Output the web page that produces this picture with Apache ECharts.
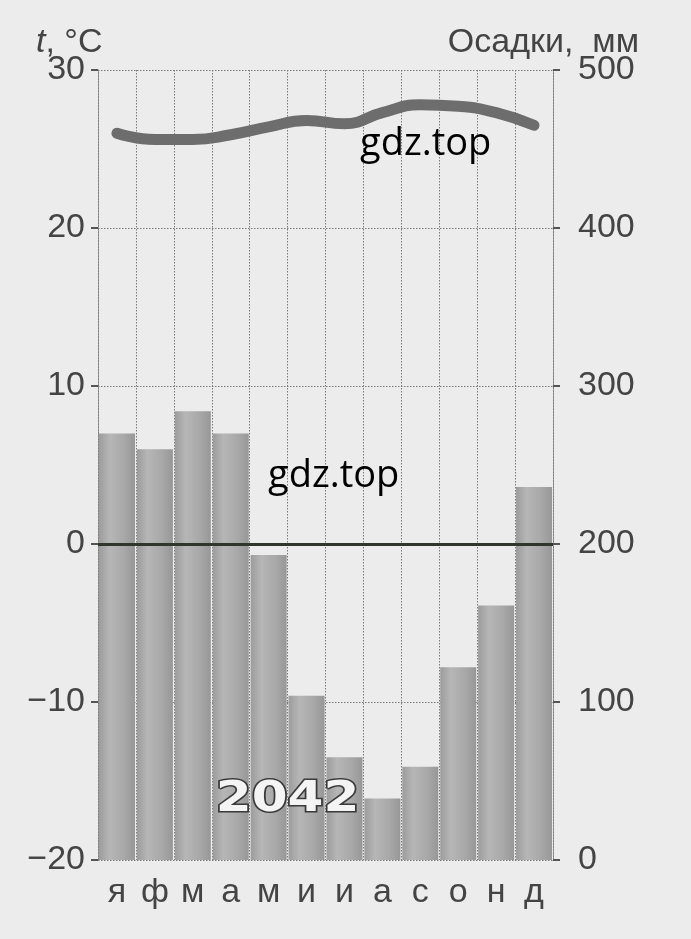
<!DOCTYPE html>
<html>
<head>
<meta charset="utf-8">
<script src="https://cdn.jsdelivr.net/npm/echarts@6/dist/echarts.min.js"></script>
<style>
html,body{margin:0;padding:0;background:#ececec;}
#chart{width:691px;height:939px;}
</style>
</head>
<body>
<div id="chart"></div>
<script>
const months = ['я','ф','м','а','м','и','и','а','с','о','н','д'];
const precipitation = [270, 260, 284, 270, 193, 104, 65, 39, 59, 122, 161, 236];
const temperature = [26.0, 25.6, 25.6, 25.9, 26.4, 26.8, 26.6, 27.3, 27.8, 27.7, 27.3, 26.5];
const tempTicks = {min: -20, max: 30, interval: 10};
const precTicks = {min: 0, max: 500, interval: 100};
const yearLabel = '2042';
const leftTitle = 't';
const leftUnit = ', °C';
const rightTitle = 'Осадки,  мм';
const watermark = 'gdz.top';

const chart = echarts.init(document.getElementById('chart'));
const grey = '#444';
const dotted = {color: '#7a7a7a', width: 1, type: [1.5, 1.5]};
const labelFont = 'Liberation Sans, Arial, sans-serif';

chart.setOption({
  backgroundColor: '#ececec',
  animation: false,
  grid: {left: 98, right: 138, top: 70, bottom: 79},
  xAxis: {
    type: 'category',
    data: months,
    boundaryGap: true,
    axisLine: {show: true, lineStyle: dotted},
    axisTick: {show: false},
    splitLine: {show: true, interval: 0, lineStyle: dotted},
    axisLabel: {color: grey, fontSize: 34, fontFamily: labelFont, margin: 16, interval: 0}
  },
  yAxis: [
    {
      type: 'value', min: tempTicks.min, max: tempTicks.max, interval: tempTicks.interval,
      axisLine: {show: true, lineStyle: dotted},
      axisTick: {show: true, length: 7, lineStyle: {color: '#555', width: 2}},
      splitLine: {show: true, lineStyle: dotted},
      axisLabel: {color: grey, fontSize: 34, fontFamily: labelFont, margin: 13,
        formatter: v => String(v).replace('-', '\u2212')}
    },
    {
      type: 'value', min: precTicks.min, max: precTicks.max, interval: precTicks.interval,
      position: 'right',
      axisLine: {show: true, lineStyle: dotted},
      axisTick: {show: true, length: 7, lineStyle: {color: '#555', width: 2}},
      splitLine: {show: false},
      axisLabel: {color: grey, fontSize: 34, fontFamily: labelFont, margin: 25}
    }
  ],
  series: [
    {
      name: 'zero', type: 'line', yAxisIndex: 0, data: [], z: 1,
      markLine: {
        silent: true, symbol: 'none', label: {show: false},
        lineStyle: {color: '#2f372c', width: 3, type: 'solid'},
        data: [{yAxis: 0}]
      }
    },
    {
      name: 'Осадки', type: 'bar', yAxisIndex: 1, data: precipitation, z: 2,
      barCategoryGap: '5%',
      itemStyle: {
        color: new echarts.graphic.LinearGradient(0, 0, 1, 0, [
          {offset: 0, color: '#9c9c9c'},
          {offset: 0.3, color: '#b6b6b6'},
          {offset: 0.7, color: '#a8a8a8'},
          {offset: 1, color: '#979797'}
        ])
      }
    },
    {
      name: 't', type: 'line', yAxisIndex: 0, data: temperature, z: 3,
      smooth: 0.5, symbol: 'none',
      lineStyle: {color: '#6d6d6d', width: 11, cap: 'round'}
    }
  ],
  graphic: [
    {type: 'text', left: 36, top: 26, style: {
      text: '{i|' + leftTitle + '}{n|' + leftUnit + '}',
      rich: {
        i: {fontStyle: 'italic', fontSize: 34, fill: grey, fontFamily: labelFont},
        n: {fontSize: 34, fill: grey, fontFamily: labelFont}
      }
    }},
    {type: 'text', right: 52, top: 26, style: {
      text: rightTitle, fontSize: 34, fill: grey, fontFamily: labelFont
    }},
    {type: 'text', left: 214, top: 777, z: 10, scaleX: 1.2, style: {
      text: yearLabel, fontSize: 43, fontWeight: 'bold', fontFamily: 'DejaVu Sans',
      fill: '#f4f4f4', stroke: '#3a3a3a', lineWidth: 3
    }},
    {type: 'text', left: 360, top: 125, z: 10, style: {
      text: watermark, fontSize: 38, fill: '#000', fontFamily: 'Open Sans'
    }},
    {type: 'text', left: 268, top: 457, z: 10, style: {
      text: watermark, fontSize: 38, fill: '#000', fontFamily: 'Open Sans'
    }}
  ]
});
</script>
</body>
</html>
